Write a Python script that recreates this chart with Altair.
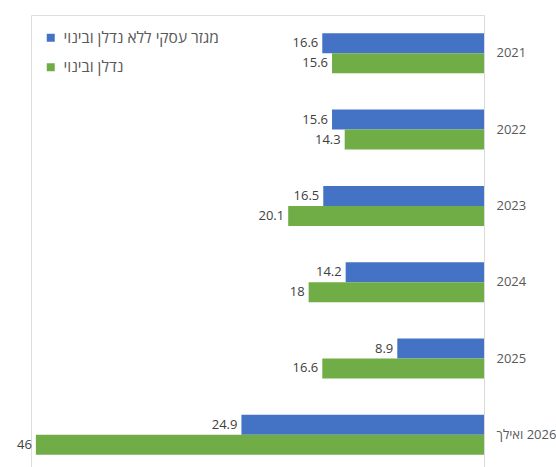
import altair as alt
import pandas as pd

years = ["2021", "2022", "2023", "2024", "2025", "\u200f2026 ואילך"]
series = ["מגזר עסקי ללא נדלן ובינוי", "נדלן ובינוי"]
business = [16.6, 15.6, 16.5, 14.2, 8.9, 24.9]
realestate = [15.6, 14.3, 20.1, 18, 16.6, 46]
colors = ["#4472C4", "#70AD47"]

rows = []
for y, b, r in zip(years, business, realestate):
    rows.append({"year": y, "series": series[0], "value": b})
    rows.append({"year": y, "series": series[1], "value": r})
df = pd.DataFrame(rows)

FONT = "Open Sans"

x = alt.X("value:Q", scale=alt.Scale(domain=[0, 46.5], reverse=True, nice=False, zero=True), axis=None)
y = alt.Y("year:N", sort=years,
          scale=alt.Scale(paddingInner=0.476, paddingOuter=0.2, align=0.6),
          axis=alt.Axis(orient="right", title=None, ticks=False, labelPadding=12,
                        labelFont=FONT, labelFontSize=13, labelColor="#595959",
                        domainColor="#d9d9d9", domainWidth=1, labelAlign="left", grid=False))
yoff = alt.YOffset("series:N", sort=series, scale=alt.Scale(paddingInner=0, paddingOuter=0))

bars = alt.Chart(df).mark_bar().encode(
    x=x, y=y, yOffset=yoff,
    color=alt.Color("series:N", sort=series,
                    scale=alt.Scale(domain=series, range=colors),
                    legend=alt.Legend(title=None, orient="none", legendX=12, legendY=15,
                                      symbolType="square", symbolSize=64, symbolStrokeWidth=0,
                                      labelFont=FONT, labelFontSize=15.5, labelColor="#595959",
                                      rowPadding=12.5, labelOffset=5, padding=0)),
)

labels = alt.Chart(df).mark_text(align="right", baseline="middle", dx=-4,
                                 font=FONT, fontSize=13, color="#404040").encode(
    x=x, y=y, yOffset=yoff,
    text=alt.Text("value:Q"),
)

chart = (bars + labels).properties(
    width=453, height=452,
    padding={"left": 31, "right": 72, "top": 15, "bottom": 0},
    autosize=alt.AutoSizeParams(type="none"),
).configure_view(stroke=None).configure(background="white")

chart.save("out.html", embed_options={"renderer": "svg", "actions": False})
